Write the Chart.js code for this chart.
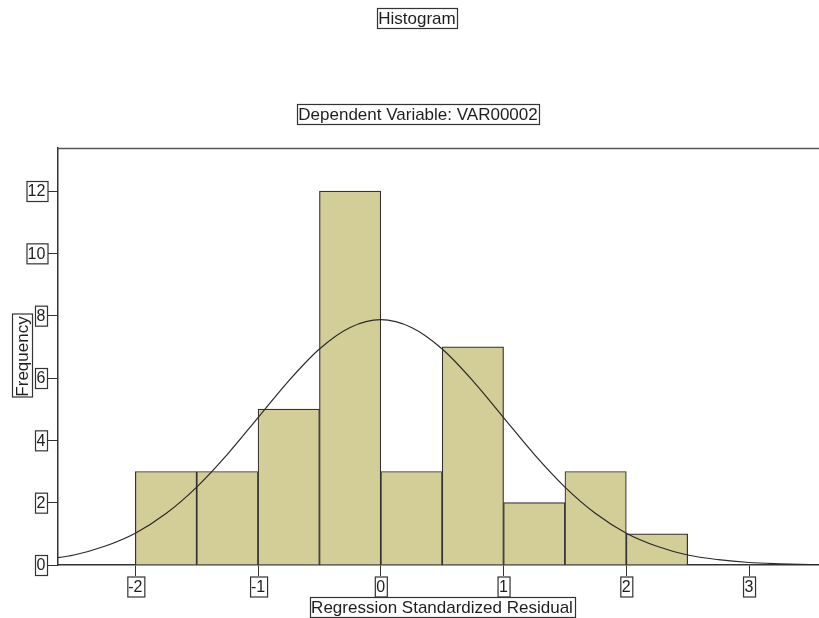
<!DOCTYPE html>
<html>
<head>
<meta charset="utf-8">
<title>Histogram</title>
<script src="https://cdn.jsdelivr.net/npm/chart.js@4/dist/chart.umd.min.js"></script>
<style>
  html, body { margin: 0; padding: 0; background: #ffffff; }
  #wrap { width: 819px; height: 618px; position: relative; }
</style>
</head>
<body>
<div id="wrap"><canvas id="hist" width="819" height="618"></canvas></div>
<script>
// Histogram bins (centres, width 0.5) and their counts
const binCenters = [-1.75, -1.25, -0.75, -0.25, 0.25, 0.75, 1.25, 1.75, 2.25];
const frequencies = [3, 3, 5, 12, 3, 7, 2, 3, 1];

// Fitted normal curve, sampled along the residual axis
const curveX = [-2.75, -2.5, -2.25, -2, -1.75, -1.5, -1.25, -1, -0.75, -0.5, -0.25, 0,
                0.25, 0.5, 0.75, 1, 1.25, 1.5, 1.75, 2, 2.25, 2.5, 2.75, 3, 3.25, 3.5, 3.75];
const curveY = [0.17, 0.32, 0.60, 1.02, 1.65, 2.50, 3.55, 4.73, 5.91, 6.93, 7.62, 7.87,
                7.62, 6.93, 5.91, 4.73, 3.55, 2.50, 1.65, 1.02, 0.60, 0.32, 0.17, 0.08, 0.04, 0.015, 0.006];

// Tick labels
const xTicks = [-2, -1, 0, 1, 2, 3];
const yTicks = [0, 2, 4, 6, 8, 10, 12];

const titleText = 'Histogram';
const subtitleText = 'Dependent Variable: VAR00002';
const xTitle = 'Regression Standardized Residual';
const yTitle = 'Frequency';

const TITLE_FONT = '17px "Liberation Sans", Arial, sans-serif';
const TICK_FONT = '16px "Liberation Sans", Arial, sans-serif';
const INK = '#1e1e1e';
const FRAME = '#333333';

// Draws a text label inside a thin rectangle (SPSS-style boxed labels)
function boxedText(ctx, text, cx, cy, font, opts) {
  opts = opts || {};
  ctx.save();
  ctx.font = font;
  const w = Math.round(ctx.measureText(text).width) + 3;
  const h = 20;
  ctx.translate(cx, cy);
  if (opts.rotate) ctx.rotate(opts.rotate);
  const x0 = Math.round(-w / 2) + 0.5, y0 = Math.round(-h / 2) + 0.5;
  ctx.fillStyle = '#ffffff';
  ctx.fillRect(x0, y0, w, h);
  ctx.strokeStyle = FRAME;
  ctx.lineWidth = 1.2;
  ctx.strokeRect(x0, y0, w, h);
  ctx.fillStyle = INK;
  ctx.textAlign = 'center';
  ctx.textBaseline = 'middle';
  ctx.fillText(text, 0, 1);
  ctx.restore();
  return w;
}

function textWidth(ctx, text, font) {
  ctx.save();
  ctx.font = font;
  const w = Math.round(ctx.measureText(text).width) + 3;
  ctx.restore();
  return w;
}

const decorations = {
  id: 'decorations',
  afterDraw(chart) {
    const ctx = chart.ctx;
    const area = chart.chartArea;
    const xs = chart.scales.x, ys = chart.scales.y;
    const tick = 11;

    // frame top edge
    ctx.save();
    ctx.strokeStyle = '#555555';
    ctx.lineWidth = 1.5;
    ctx.beginPath();
    ctx.moveTo(area.left, area.top + 0.5);
    ctx.lineTo(chart.width, area.top + 0.5);
    ctx.stroke();
    ctx.restore();

    // titles
    boxedText(ctx, titleText, 417, 18, TITLE_FONT);
    boxedText(ctx, subtitleText, 418, 114, TITLE_FONT);

    // y tick labels
    yTicks.forEach(v => {
      const py = ys.getPixelForValue(v);
      const w = textWidth(ctx, String(v), TICK_FONT);
      boxedText(ctx, String(v), area.left - tick - w / 2, py, TICK_FONT);
    });

    // x tick labels
    xTicks.forEach(v => {
      const px = xs.getPixelForValue(v);
      boxedText(ctx, String(v), px, area.bottom + tick + 10.5, TICK_FONT);
    });

    // axis titles
    boxedText(ctx, xTitle, 442, area.bottom + 42, TITLE_FONT);
    boxedText(ctx, yTitle, 22, (area.top + area.bottom) / 2, TITLE_FONT, { rotate: -Math.PI / 2 });
  }
};

new Chart(document.getElementById('hist'), {
  type: 'bar',
  data: {
    datasets: [
      {
        type: 'line',
        label: 'Normal',
        data: curveX.map((x, i) => ({ x: x, y: curveY[i] })),
        borderColor: '#2a2a2a',
        borderWidth: 1.2,
        pointRadius: 0,
        fill: false,
        cubicInterpolationMode: 'monotone',
        order: 0
      },
      {
        type: 'bar',
        label: 'Frequency',
        data: binCenters.map((x, i) => ({ x: x, y: frequencies[i] })),
        backgroundColor: '#d3cd98',
        borderColor: '#333333',
        borderWidth: 1.2,
        barPercentage: 1,
        categoryPercentage: 1,
        grouped: false,
        order: 1
      }
    ]
  },
  options: {
    responsive: false,
    animation: false,
    layout: { padding: { top: 148, left: 0, right: 0, bottom: 0 } },
    plugins: {
      legend: { display: false },
      tooltip: { enabled: false },
      title: { display: false }
    },
    scales: {
      x: {
        type: 'linear',
        min: -2.63,
        max: 3.57,
        offset: false,
        afterBuildTicks: s => { s.ticks = xTicks.map(v => ({ value: v })); },
        afterFit: s => { s.height = 53; },
        ticks: { display: false },
        grid: { display: true, offset: false, drawOnChartArea: false, drawTicks: true, tickLength: 11, color: FRAME, lineWidth: 1 },
        border: { display: true, color: FRAME, width: 1.5 }
      },
      y: {
        type: 'linear',
        min: 0,
        max: 13.38,
        afterBuildTicks: s => { s.ticks = yTicks.map(v => ({ value: v })); },
        afterFit: s => { s.width = 58; },
        ticks: { display: false },
        grid: { display: true, drawOnChartArea: false, drawTicks: true, tickLength: 11, color: FRAME, lineWidth: 1 },
        border: { display: true, color: FRAME, width: 1.5 }
      }
    }
  },
  plugins: [decorations]
});
</script>
</body>
</html>
